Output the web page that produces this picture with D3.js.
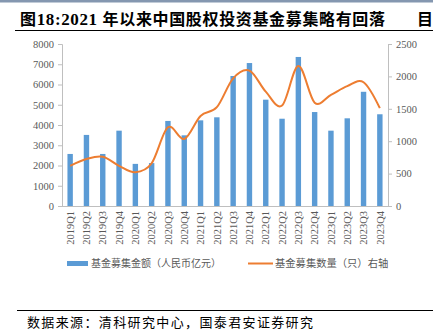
<!DOCTYPE html>
<html><head><meta charset="utf-8">
<script src="https://cdn.jsdelivr.net/npm/d3@7"></script>
<style>body{margin:0;background:#fff}svg{display:block}</style>
</head><body>
<script>
const quarters = ["2019Q1","2019Q2","2019Q3","2019Q4","2020Q1","2020Q2","2020Q3","2020Q4","2021Q1","2021Q2","2021Q3","2021Q4","2022Q1","2022Q2","2022Q3","2022Q4","2023Q1","2023Q2","2023Q3","2023Q4"];
const amount = [2570,3510,2570,3720,2080,2120,4200,3490,4230,4380,6420,7060,5250,4310,7360,4640,3720,4330,5640,4530];
const count = [620,725,760,620,520,660,1215,1035,1390,1525,1970,2090,1765,1550,2160,1595,1715,1850,1910,1510];
const leftTicks = [0,1000,2000,3000,4000,5000,6000,7000,8000];
const rightTicks = [0,500,1000,1500,2000,2500];
const title = "图18:2021 年以来中国股权投资基金募集略有回落";
const legendLabels = ["基金募集金额（人民币亿元）","基金募集数量（只）右轴"];
const source = "数据来源：清科研究中心，国泰君安证券研究";

const W=433,H=331;
const svg=d3.select("body").append("svg").attr("width",W).attr("height",H);
const serif="'Liberation Serif','Times New Roman',serif";
const cjk="'Noto Sans CJK SC',sans-serif";

// top band
svg.append("rect").attr("x",0).attr("y",0).attr("width",W).attr("height",2.5).attr("fill","#8497b0");
// title
const t=svg.append("text").attr("x",20).attr("y",25).attr("font-size",16).attr("font-weight","bold").attr("fill","#000")
 .attr("textLength",365).attr("lengthAdjust","spacing");
t.append("tspan").attr("font-family",cjk).text("图");
t.append("tspan").attr("font-family",serif).attr("font-size",17).text("18:2021 ");
t.append("tspan").attr("font-family",cjk).text(title.slice(9));
svg.append("text").attr("x",417).attr("y",25).attr("font-size",16).attr("font-weight","bold").attr("font-family",cjk).text("目");
svg.append("line").attr("x1",15).attr("x2",W).attr("y1",30.5).attr("y2",30.5).attr("stroke","#000").attr("stroke-width",1);

const x=d3.scaleBand().domain(quarters).range([62,388]);
const yL=d3.scaleLinear().domain([0,8000]).range([206,44]);
const yR=d3.scaleLinear().domain([0,2500]).range([206,44]);
const grey="#bfbfbf", txt="#595959";

// left axis
const gl=svg.append("g").attr("transform","translate(62,0)")
 .call(d3.axisLeft(yL).tickValues(leftTicks).tickSize(4).tickPadding(4).tickFormat(d3.format("d")));
gl.selectAll("path,line").attr("stroke",grey);
gl.select(".domain").attr("d","M-4,44.5H0.5V206");
gl.selectAll("text").attr("font-family",serif).attr("font-size",10.5).attr("fill",txt);
// right axis
const gr=svg.append("g").attr("transform","translate(388,0)")
 .call(d3.axisRight(yR).tickValues(rightTicks).tickSize(4).tickPadding(4).tickFormat(d3.format("d")));
gr.selectAll("path,line").attr("stroke",grey);
gr.select(".domain").attr("d","M4,44.5H0.5V206");
gr.selectAll("text").attr("font-family",serif).attr("font-size",10.5).attr("fill",txt);

// bars
svg.append("g").selectAll("rect").data(quarters).join("rect")
 .attr("x",d=>x(d)+x.bandwidth()/2-2.7).attr("width",5.4)
 .attr("y",(d,i)=>yL(amount[i])).attr("height",(d,i)=>yL(0)-yL(amount[i]))
 .attr("fill","#5b9bd5");

// bottom axis
const gb=svg.append("g").attr("transform","translate(0,206)")
 .call(d3.axisBottom(x).tickSize(0).tickPadding(0));
gb.select(".domain").attr("stroke",grey).attr("d","M62,0.5H392");
gb.selectAll("text").attr("font-family",serif).attr("font-size",10.5).attr("fill",txt)
 .attr("transform","rotate(-90)").attr("text-anchor","end").attr("dx","-5").attr("dy","0.35em").attr("y",0).attr("x",0);

// line
const line=d3.line().x((d,i)=>x(quarters[i])+x.bandwidth()/2).y(d=>yR(d)).curve(d3.curveCatmullRom.alpha(0));
svg.append("path").datum(count).attr("d",line).attr("fill","none").attr("stroke","#ed7d31").attr("stroke-width",2);

// legend
svg.append("rect").attr("x",67).attr("y",261).attr("width",21).attr("height",5).attr("fill","#5b9bd5");
svg.append("text").attr("x",91).attr("y",267).attr("font-family",cjk).attr("font-size",10).attr("fill",txt).text(legendLabels[0]);
svg.append("line").attr("x1",248).attr("x2",273).attr("y1",263.5).attr("y2",263.5).attr("stroke","#ed7d31").attr("stroke-width",2);
svg.append("text").attr("x",275).attr("y",267).attr("font-family",cjk).attr("font-size",10.3).attr("fill",txt).text(legendLabels[1]);

// source
svg.append("line").attr("x1",17).attr("x2",W).attr("y1",310.5).attr("y2",310.5).attr("stroke","#000").attr("stroke-width",1);
svg.append("text").attr("x",27).attr("y",327).attr("font-family",cjk).attr("font-size",13).attr("textLength",286).attr("fill","#000").text(source);
</script>
</body></html>
